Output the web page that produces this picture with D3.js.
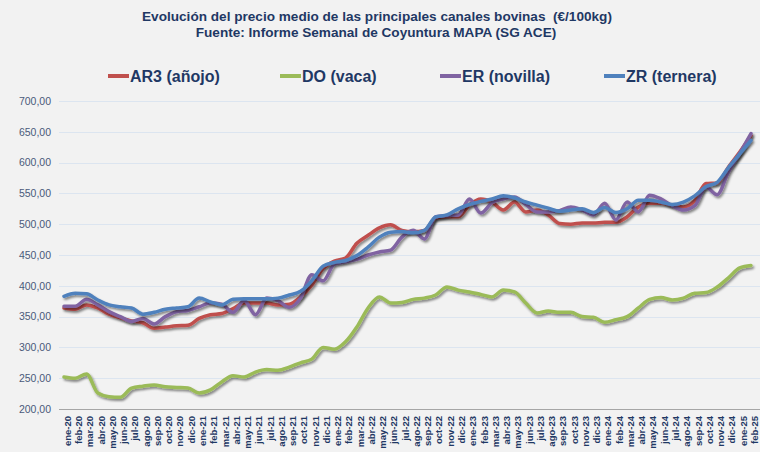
<!DOCTYPE html>
<html><head><meta charset="utf-8">
<script src="https://cdn.jsdelivr.net/npm/d3@7/dist/d3.min.js"></script>
<style>
html,body{margin:0;padding:0;background:#F2F2F2;}
svg{display:block;}
</style></head>
<body><svg id="c" width="760" height="452"></svg>
<script>
const months = ["ene-20","feb-20","mar-20","abr-20","may-20","jun-20","jul-20","ago-20","sep-20","oct-20","nov-20","dic-20",
"ene-21","feb-21","mar-21","abr-21","may-21","jun-21","jul-21","ago-21","sep-21","oct-21","nov-21","dic-21",
"ene-22","feb-22","mar-22","abr-22","may-22","jun-22","jul-22","ago-22","sep-22","oct-22","nov-22","dic-22",
"ene-23","feb-23","mar-23","abr-23","may-23","jun-23","jul-23","ago-23","sep-23","oct-23","nov-23","dic-23",
"ene-24","feb-24","mar-24","abr-24","may-24","jun-24","jul-24","ago-24","sep-24","oct-24","nov-24","dic-24",
"ene-25","feb-25"];
const yTicks = [200,250,300,350,400,450,500,550,600,650,700];
const seriesNames = ["AR3 (añojo)","DO (vaca)","ER (novilla)","ZR (ternera)"];
const seriesColors = ["#C0504D","#9BBB59","#8064A2","#4F81BD"];

const AR3 = [364,362,369,364,354,348,343,340,331,333,335,336,
 347,353,355,363,372,372,372,369,370,382,401,428,
 440,445,469,482,494,499,490,488,490,510,512,512,
 531,541,536,523,536,520,523,515,501,500,502,502,
 503,503,512,528,534,534,531,528,538,566,567,593,
 617,644];
const DO = [252,250,257,226,220,219,234,237,239,236,235,234,
 226,231,244,254,252,260,264,263,268,275,281,300,
 297,309,333,364,382,372,373,378,380,385,398,393,
 390,386,382,393,390,372,356,359,357,357,350,349,
 341,345,350,364,378,381,377,380,388,389,398,413,
 429,433];
const ER = [367,367,378,369,358,350,342,347,338,350,358,360,
 366,372,370,357,376,353,380,376,365,380,418,408,
 435,439,443,450,455,458,479,490,476,512,514,515,
 541,518,535,541,544,532,520,520,522,528,523,515,
 534,507,536,520,547,541,530,523,530,560,548,585,
 615,647];
const ZR = [383,388,387,377,369,366,364,354,357,362,364,366,
 380,374,369,378,379,379,379,380,385,391,408,432,
 438,441,449,463,479,487,488,486,490,512,515,525,
 532,537,541,546,543,536,531,526,521,523,525,519,
 527,519,525,539,539,536,532,536,546,561,568,592,
 614,636];
const seriesValues = [AR3, DO, ER, ZR];

(function(){
const svg = d3.select("#c");
const pLeft = 59, pRight = 760, pTop = 101, pBottom = 409;
const navy = "#1F3864";
const font = "Liberation Sans, Arial, sans-serif";

const x = d3.scalePoint().domain(months).range([64, 751]);
const y = d3.scaleLinear().domain([200,700]).range([pBottom, pTop]);

const defs = svg.append("defs");
const f = defs.append("filter").attr("id","sh").attr("x","-10%").attr("y","-10%").attr("width","120%").attr("height","130%");
f.append("feDropShadow").attr("dx",1.5).attr("dy",2).attr("stdDeviation",1.1)
  .attr("flood-color","#000").attr("flood-opacity",0.45);

// title
svg.append("text").attr("x",377).attr("y",21).attr("text-anchor","middle")
  .style("white-space","pre")
  .attr("font-family",font).attr("font-weight","bold").attr("font-size",13.6)
  .attr("fill",navy).text("Evolución del precio medio de las principales canales bovinas  (€/100kg)");
svg.append("text").attr("x",376).attr("y",37).attr("text-anchor","middle")
  .attr("font-family",font).attr("font-weight","bold").attr("font-size",13.6)
  .attr("fill",navy).text("Fuente: Informe Semanal de Coyuntura MAPA (SG ACE)");

// legend
const legX = [108, 280, 440, 604];
const lg = svg.append("g");
seriesNames.forEach((n,i)=>{
  lg.append("line").attr("x1",legX[i]).attr("x2",legX[i]+21).attr("y1",76).attr("y2",76)
    .attr("stroke",seriesColors[i]).attr("stroke-width",4);
  lg.append("text").attr("x",legX[i]+22).attr("y",82)
    .attr("font-family",font).attr("font-weight","bold").attr("font-size",16)
    .attr("fill",navy).text(n);
});

// grid
svg.append("g").selectAll("line").data(yTicks.filter(t=>t>200)).join("line")
  .attr("x1",pLeft).attr("x2",pRight).attr("y1",d=>Math.round(y(d))+0.5).attr("y2",d=>Math.round(y(d))+0.5)
  .attr("stroke","#DCE5F0").attr("stroke-width",1);

// y axis
const yAxis = d3.axisLeft(y).tickValues(yTicks).tickSize(0).tickPadding(8)
  .tickFormat(d=>d3.format(".2f")(d).replace(".",","));
const ya = svg.append("g").attr("transform",`translate(${pLeft},0)`).call(yAxis);
ya.select(".domain").remove();
ya.selectAll("text").attr("font-family",font).attr("font-size",10.5).attr("fill","#4A5A7A");

// x axis
const xAxis = d3.axisBottom(x).tickSize(0).tickPadding(0);
const xa = svg.append("g").attr("transform",`translate(0,${pBottom})`).call(xAxis);
xa.select(".domain").remove();
xa.selectAll("text")
  .attr("transform","translate(3,7) rotate(-90)")
  .attr("text-anchor","end").attr("x",0).attr("y",0).attr("dy","0.35em")
  .attr("font-family",font).attr("font-weight","bold").attr("font-size",9.5)
  .attr("fill",navy);
svg.append("line").attr("x1",pLeft).attr("x2",pRight).attr("y1",pBottom+0.5).attr("y2",pBottom+0.5)
  .attr("stroke","#A6A6A6").attr("stroke-width",1);

// lines
const line = d3.line().x((d,i)=>x(months[i])).y(d=>y(d)).curve(d3.curveMonotoneX);
const lgG = svg.append("g");
seriesValues.forEach((vals,i)=>{
  lgG.append("path").datum(vals).attr("d",line).attr("fill","none")
    .attr("stroke",seriesColors[i]).attr("stroke-width",3.5).attr("stroke-linejoin","round")
    .attr("stroke-linecap","round").attr("filter","url(#sh)");
});
})();
</script></body></html>
